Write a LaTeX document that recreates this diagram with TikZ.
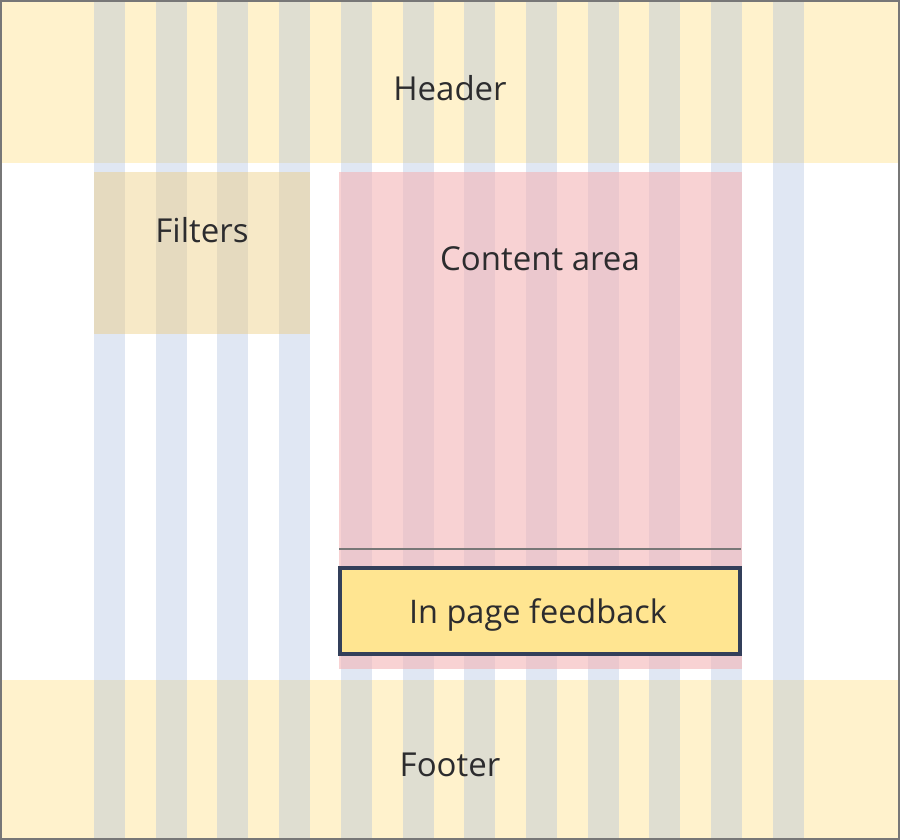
\documentclass[tikz,border=0pt]{standalone}
\usepackage{fontspec}
\setmainfont{Open Sans}
\usetikzlibrary{positioning}

\definecolor{bandyellow}{RGB}{255,242,204}
\definecolor{gridblue}{RGB}{166,186,221}
\definecolor{filtertan}{RGB}{236,202,121}
\definecolor{contentpink}{RGB}{243,180,182}
\definecolor{feedyellow}{RGB}{255,229,145}
\definecolor{feednavy}{RGB}{51,63,90}
\definecolor{labelgray}{RGB}{44,44,46}
\definecolor{framegray}{RGB}{119,119,119}

\begin{document}
\begin{tikzpicture}[x=1pt, y=-1pt,
    band/.style={fill=bandyellow},
    gridcol/.style={fill=gridblue, fill opacity=0.35},
    label/.style={anchor=base, text=labelgray, font=\fontsize{33}{36}\selectfont, inner sep=0pt},
    feedbox/.style={draw=feednavy, line width=4pt, fill=feedyellow}]

    \useasboundingbox (0,0) rectangle (900,840);

    % Header and footer bands
    \fill[band] (0,0) rectangle (900,163);
    \fill[band] (0,680) rectangle (900,840);

    % Grid columns
    \foreach \i in {0,...,11}
        \fill[gridcol] ({94+61.7*\i},0) rectangle ({125+61.7*\i},840);

    % Filters and content area
    \fill[filtertan, fill opacity=0.42] (94,172) rectangle (310,334);
    \fill[contentpink, fill opacity=0.6] (339,172) rectangle (742,669);

    % Divider above feedback
    \coordinate (div_l) at (339,549);
    \coordinate (div_r) at (741,549);
    \draw[line width=2pt, framegray] (div_l) -- (div_r);

    % In page feedback
    \draw[feedbox] (340,568) rectangle (740,654);

    % Labels
    \node[label] (header) at (450,101) {Header};
    \node[label] (filters) at (202,242) {Filters};
    \node[label] (content) at (540,270) {Content area};
    \node[label, font=\fontsize{32.5}{35}\selectfont] (feedback) at (538,623) {In page feedback};
    \node[label] (footer) at (450,776) {Footer};

    % Frame
    \draw[line width=2pt, framegray] (1,1) rectangle (899,839);

\end{tikzpicture}
\end{document}
